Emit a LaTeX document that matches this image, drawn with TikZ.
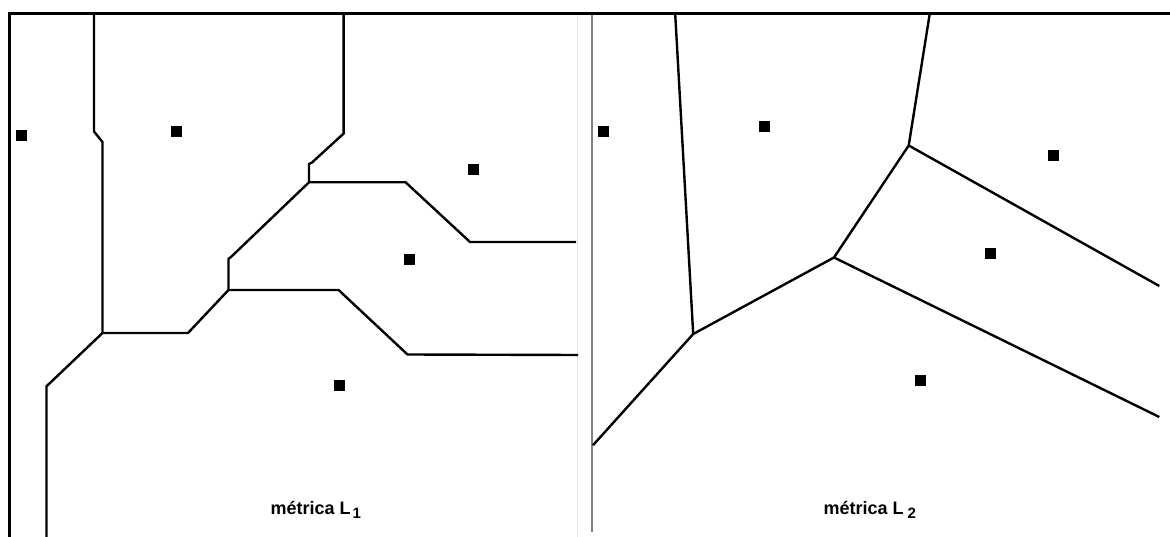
\documentclass[tikz,border=0pt]{standalone}
\usepackage{fontspec}
\setmainfont{Liberation Sans}

\begin{document}
\begin{tikzpicture}[
  x=1pt, y=-1pt,
  frame/.style={line width=3pt},
  cell/.style={line width=2.4pt, line join=miter},
  site/.style={fill, minimum size=11pt, inner sep=0pt, outer sep=0pt},
  lbl/.style={font=\fontsize{18}{18}\selectfont\bfseries, anchor=base west, inner sep=0pt}
]
\useasboundingbox (0,0) rectangle (1170,537);

% frames of the two panels
\draw[frame] (9,537) -- (9,14) -- (1170,14);
\draw[black!10, line width=1pt] (577,15) -- (577,537);
\draw[gray, line width=1.2pt] (592,15) -- (592,532);

% --- metrica L1 ---
\coordinate (a) at (102.5,333);
\coordinate (b) at (228.5,290);
\coordinate (c) at (309,182.3);
\draw[cell] (94,14) -- (94,131.5) -- (102.5,142) -- (a);
\draw[cell] (a) -- (188,333) -- (b);
\draw[cell] (b) -- (228.5,259) -- (231.5,256.5) -- (c);
\draw[cell] (c) -- (309,164) -- (312,162.5) -- (343.6,133.6) -- (343.6,14);
\draw[cell] (c) -- (405.6,182.3) -- (470,242) -- (576,242);
\draw[cell] (b) -- (338.6,290) -- (407.5,354.5) -- (578,355);
\draw[cell] (a) -- (46.5,386.3) -- (46.5,537);

\node[site] (l1) at (21,136) {};
\node[site] (l2) at (176,131.5) {};
\node[site] (l3) at (473,169.5) {};
\node[site] (l4) at (409.5,260) {};
\node[site] (l5) at (339.5,385) {};

\node[lbl] (tl) at (270.5,514) {métrica L\hspace{2pt}\raisebox{-4.5pt}{\fontsize{15}{15}\selectfont 1}};

% --- metrica L2 ---
\coordinate (p) at (908.7,145.5);
\coordinate (q) at (834,257.5);
\coordinate (r) at (693.2,334);
\draw[cell] (675.2,14) -- (r);
\draw[cell] (929.7,14) -- (p);
\draw[cell] (p) -- (q) -- (r);
\draw[cell] (r) -- (593,445.2);
\draw[cell] (p) -- (1159.3,286);
\draw[cell] (q) -- (1159.3,417);

\node[site] (m1) at (603.7,131.8) {};
\node[site] (m2) at (764,126.7) {};
\node[site] (m3) at (1053.4,155.8) {};
\node[site] (m4) at (990.2,253.4) {};
\node[site] (m5) at (920.2,380.8) {};

\node[lbl] (tr) at (823.5,514) {métrica L\hspace{4pt}\raisebox{-4.5pt}{\fontsize{15}{15}\selectfont 2}};
\end{tikzpicture}
\end{document}
